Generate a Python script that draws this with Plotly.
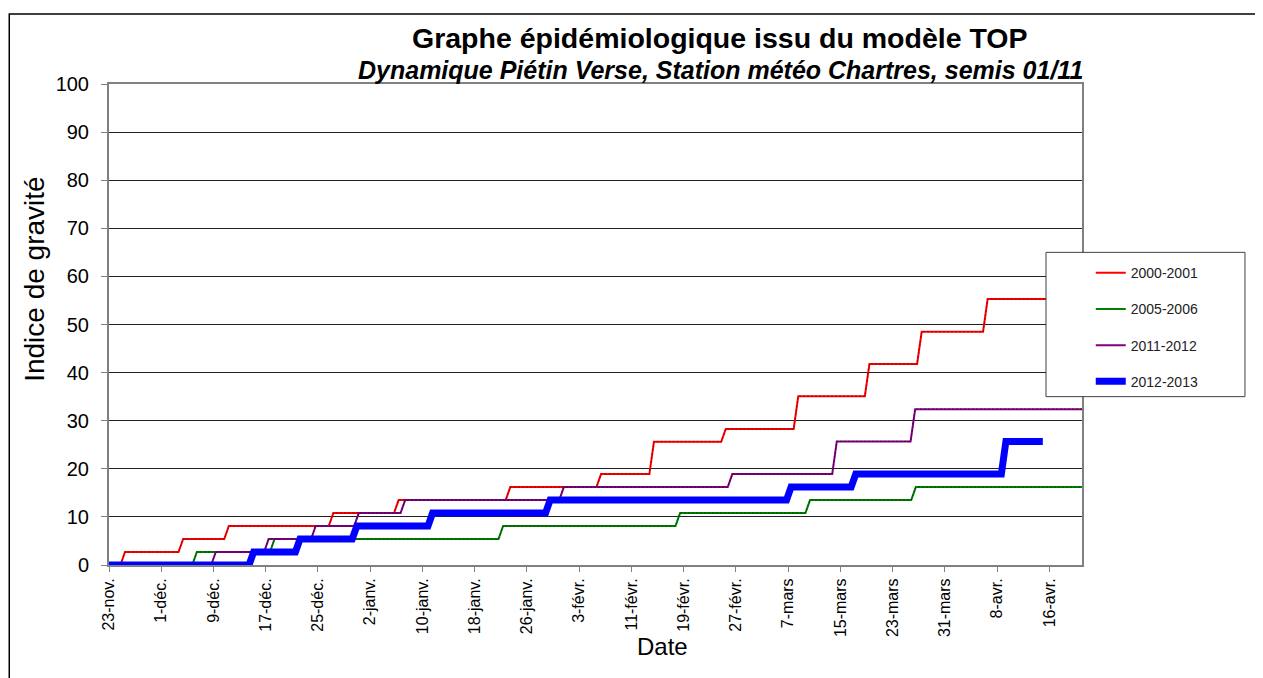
import pandas as pd
import plotly.graph_objects as go

# season start (first day on the x axis) and axis end, in days from start
start = pd.Timestamp("2012-11-23")
axis_end = 149

tick_labels = ["23-nov.", "1-déc.", "9-déc.", "17-déc.", "25-déc.", "2-janv.", "10-janv.",
               "18-janv.", "26-janv.", "3-févr.", "11-févr.", "19-févr.", "27-févr.", "7-mars",
               "15-mars", "23-mars", "31-mars", "8-avr.", "16-avr."]

# day (from 23-nov) where each step happens, and level reached
red_days = [2.1, 11.0, 18.0, 34.0, 44.0, 61.1, 75.0, 83.1, 94.1, 105.2, 116.1, 124.1, 134.2]
red_levels = [2.7, 5.4, 8.1, 10.8, 13.5, 16.2, 18.9, 25.6, 28.3, 35.1, 41.8, 48.5, 55.3]
red_last = 149

green_days = [13.1, 25.0, 60.0, 87.1, 107.0, 123.2]
green_levels = [2.7, 5.4, 8.1, 10.8, 13.5, 16.2]
green_last = 149

purple_days = [16.0, 24.1, 31.3, 37.9, 45.0, 69.3, 95.1, 111.1, 123.1]
purple_levels = [2.7, 5.4, 8.1, 10.8, 13.5, 16.2, 18.9, 25.7, 32.4]
purple_last = 149

blue_days = [21.8, 28.9, 37.6, 49.2, 67.2, 104.1, 114.0, 137.0]
blue_levels = [2.7, 5.4, 8.1, 10.8, 13.5, 16.2, 18.9, 25.7]
blue_last = 143


def steps(days, levels, last, half=0.35):
    xs, ys = [0.0], [0.0]
    prev = 0.0
    for d, lv in zip(days, levels):
        xs += [d - half, d + half]
        ys += [prev, lv]
        prev = lv
    xs.append(last)
    ys.append(prev)
    dates = start + pd.to_timedelta(xs, unit="D")
    return dates, ys


series = [
    ("2000-2001", red_days, red_levels, red_last, "#FF0000", "#9b0000", 2),
    ("2005-2006", green_days, green_levels, green_last, "#008000", "#004a00", 2),
    ("2011-2012", purple_days, purple_levels, purple_last, "#800080", "#4a004a", 2),
    ("2012-2013", blue_days, blue_levels, blue_last, "#0000FF", "#0000FF", 7),
]

fig = go.Figure()
for name, days, levels, last, col, dark, w in series:
    x, y = steps(days, levels, last)
    fig.add_trace(go.Scatter(x=x, y=y, mode="lines", name=name, legendgroup=name,
                             line=dict(color=col, width=w)))
    if w < 5:
        # thin dotted overlay seen on the original lines
        fig.add_trace(go.Scatter(x=x, y=y, mode="lines", showlegend=False, hoverinfo="skip",
                                 line=dict(color=dark, width=1, dash="2px,2px")))

tick_vals = [start + pd.Timedelta(days=8 * i) for i in range(len(tick_labels))]

# the page body adds an 8px offset, so the figure is 8px smaller
fig.update_layout(
    width=1255, height=670,
    margin=dict(l=101, r=181, t=76, b=112.5),
    paper_bgcolor="white", plot_bgcolor="white",
    font=dict(family="Liberation Sans, Arial, sans-serif", color="black"),
    showlegend=True,
    legend=dict(x=1.009, y=0.64, xanchor="left", yanchor="top", bgcolor="rgba(0,0,0,0)",
                font=dict(size=14, color="#222"), tracegroupgap=15, itemwidth=30),
)

fig.update_xaxes(
    range=[start, start + pd.Timedelta(days=axis_end)],
    tickvals=tick_vals, ticktext=tick_labels, tickangle=-90,
    tickfont=dict(size=16), ticks="outside", ticklen=5, tickcolor="#808080",
    showgrid=False, zeroline=False,
    showline=True, linecolor="#808080", linewidth=2, mirror=True,
)
fig.update_yaxes(
    range=[0, 100], dtick=10, tickfont=dict(size=20),
    ticks="outside", ticklen=6, tickcolor="#808080", ticklabelstandoff=8,
    showgrid=True, gridcolor="#202020", gridwidth=1, zeroline=False,
    showline=True, linecolor="#808080", linewidth=2, mirror=True,
)

# legend frame
fig.add_shape(type="rect", xref="paper", yref="paper",
              x0=0.963, x1=1.1675, y0=0.350, y1=0.650,
              line=dict(color="#404040", width=1), fillcolor="white", layer="above")
# outer chart frame
fig.add_shape(type="rect", xref="paper", yref="paper",
              x0=-0.1025, x1=1.18, y0=-0.25, y1=1.1454,
              line=dict(color="black", width=1.5))

fig.add_annotation(text="<b>Graphe épidémiologique issu du modèle TOP</b>",
                   xref="paper", yref="paper", x=0.628, y=1.0955, showarrow=False,
                   font=dict(size=28.5), xanchor="center", yanchor="middle")
fig.add_annotation(text="<b><i>Dynamique Piétin Verse, Station météo Chartres, semis 01/11</i></b>",
                   xref="paper", yref="paper", x=0.628, y=1.029, showarrow=False,
                   font=dict(size=25), xanchor="center", yanchor="middle")
fig.add_annotation(text="Indice de gravité", textangle=-90,
                   xref="paper", yref="paper", x=-0.076, y=0.593, showarrow=False,
                   font=dict(size=28), xanchor="center", yanchor="middle")
fig.add_annotation(text="Date",
                   xref="paper", yref="paper", x=0.569, y=-0.169, showarrow=False,
                   font=dict(size=24), xanchor="center", yanchor="middle")

fig.write_html("out.html")
